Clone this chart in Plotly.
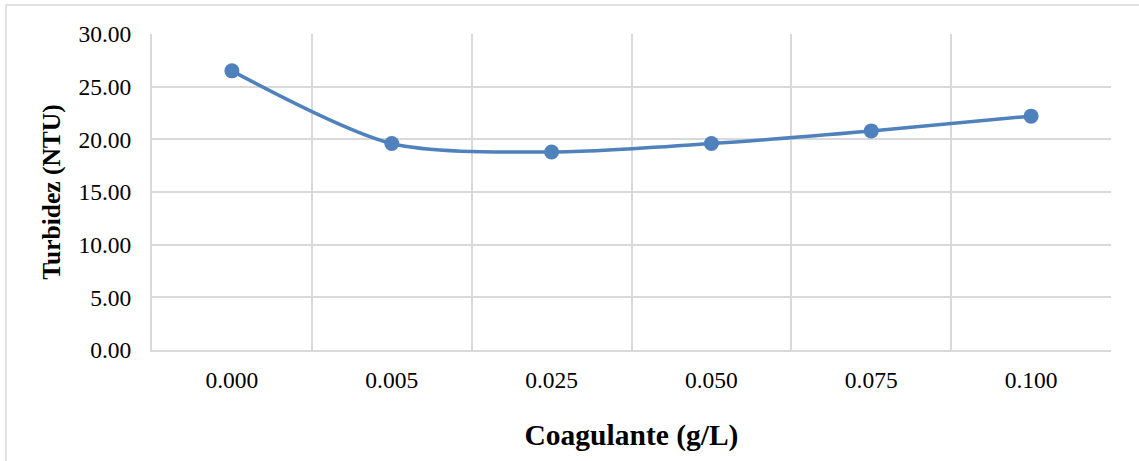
import plotly.graph_objects as go

categories = ["0.000", "0.005", "0.025", "0.050", "0.075", "0.100"]
turbidez = [26.5, 19.6, 18.8, 19.6, 20.8, 22.2]
y_ticks = [0, 5, 10, 15, 20, 25, 30]
y_tick_labels = ["0.00", "5.00", "10.00", "15.00", "20.00", "25.00", "30.00"]

FONT = "Liberation Serif"
grid = "#d9d9d9"

fig = go.Figure()
fig.add_trace(go.Scatter(
    x=categories, y=turbidez, mode="lines+markers",
    line=dict(color="#4f81bd", width=3.5, shape="spline", smoothing=0.8),
    marker=dict(color="#4f81bd", size=15),
    showlegend=False,
))

fig.update_layout(
    width=1139, height=461,
    margin=dict(l=152, r=28, t=34, b=111),
    paper_bgcolor="white", plot_bgcolor="white",
    font=dict(family=FONT, color="black", size=23.5),
    xaxis=dict(
        type="category", tickson="boundaries", showgrid=True, gridcolor=grid, gridwidth=1.5,
        ticks="", showline=True, linecolor=grid, linewidth=2,
        tickfont=dict(size=23.5, family=FONT), ticklabelstandoff=8,
        title=dict(text="<b>Coagulante (g/L)</b>", font=dict(size=29.5, family=FONT), standoff=32),
        range=[-0.5, 5.5],
    ),
    yaxis=dict(
        range=[0, 30], tickvals=y_ticks, ticktext=y_tick_labels,
        showgrid=True, gridcolor=grid, gridwidth=1.5, zeroline=False,
        showline=True, linecolor=grid, linewidth=2, ticks="",
        tickfont=dict(size=23.5, family=FONT), ticklabelstandoff=14,
        title=dict(text="<b>Turbidez (NTU)</b>", font=dict(size=25.5, family=FONT), standoff=10),
    ),
    shapes=[dict(type="rect", xref="paper", yref="paper",
                 x0=-146/959, x1=1.05, y0=-0.6, y1=1 + 29/316,
                 line=dict(color="#d9d9d9", width=1.5), fillcolor="rgba(0,0,0,0)", layer="below")],
)

fig.write_html("out.html")
